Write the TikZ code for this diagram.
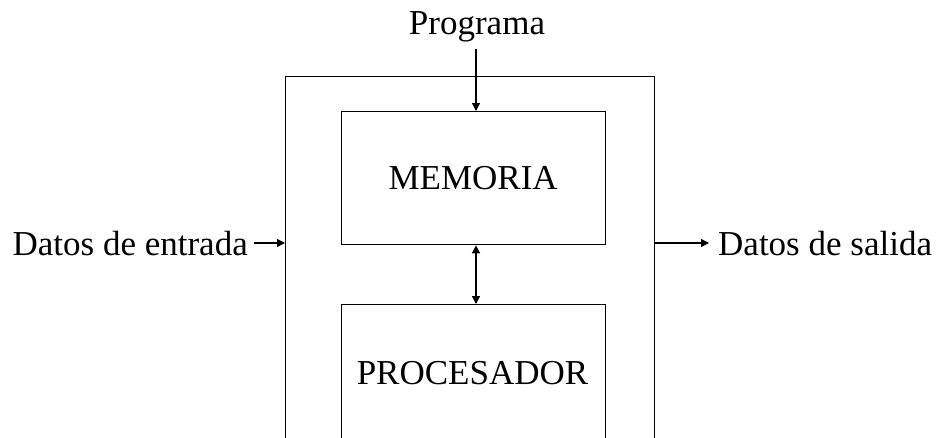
\documentclass[tikz,border=0pt]{standalone}
\usepackage{fontspec}
\setmainfont{Liberation Serif}
\usetikzlibrary{arrows.meta}
\begin{document}
\begin{tikzpicture}[x=1pt,y=-1pt,
  box/.style={draw, line width=1.3pt, rectangle, inner sep=0pt, anchor=north west},
  lbl/.style={font=\fontsize{35}{40}\selectfont, inner sep=0pt},
  arr/.style={-{Triangle[length=8pt,width=8pt]}, line width=1.3pt},
  darr/.style={{Triangle[length=8pt,width=8pt]}-{Triangle[length=8pt,width=8pt]}, line width=1.3pt}]
\useasboundingbox (0,0) rectangle (938,437);
\clip (0,0) rectangle (938,437);
\node[box, minimum width=369pt, minimum height=420pt] (outer) at (285,75.5) {};
\node[box, lbl, minimum width=264pt, minimum height=133pt] (mem) at (340.5,111) {MEMORIA};
\node[box, minimum width=264pt, minimum height=200pt] (proc) at (340.5,304) {};
\node[lbl, anchor=base] (proclbl) at (472.5,384) {PROCESADOR};
\node[lbl, anchor=base] (prog) at (477,34) {Programa};
\node[lbl, anchor=base east] (din) at (248,255) {Datos de entrada};
\node[lbl, anchor=base west] (dout) at (718,255) {Datos de salida};
\coordinate (ein) at (254,243);
\coordinate (sal) at (709,243);
\coordinate (mid) at (476,0);
\draw[arr] ([yshift=-7pt]prog.south -| mid) -- (mid |- mem.north);
\draw[darr] (mid |- mem.south) -- (mid |- proc.north);
\draw[arr] (ein) -- (ein -| outer.west);
\draw[arr] (sal -| outer.east) -- (sal);
\end{tikzpicture}
\end{document}
